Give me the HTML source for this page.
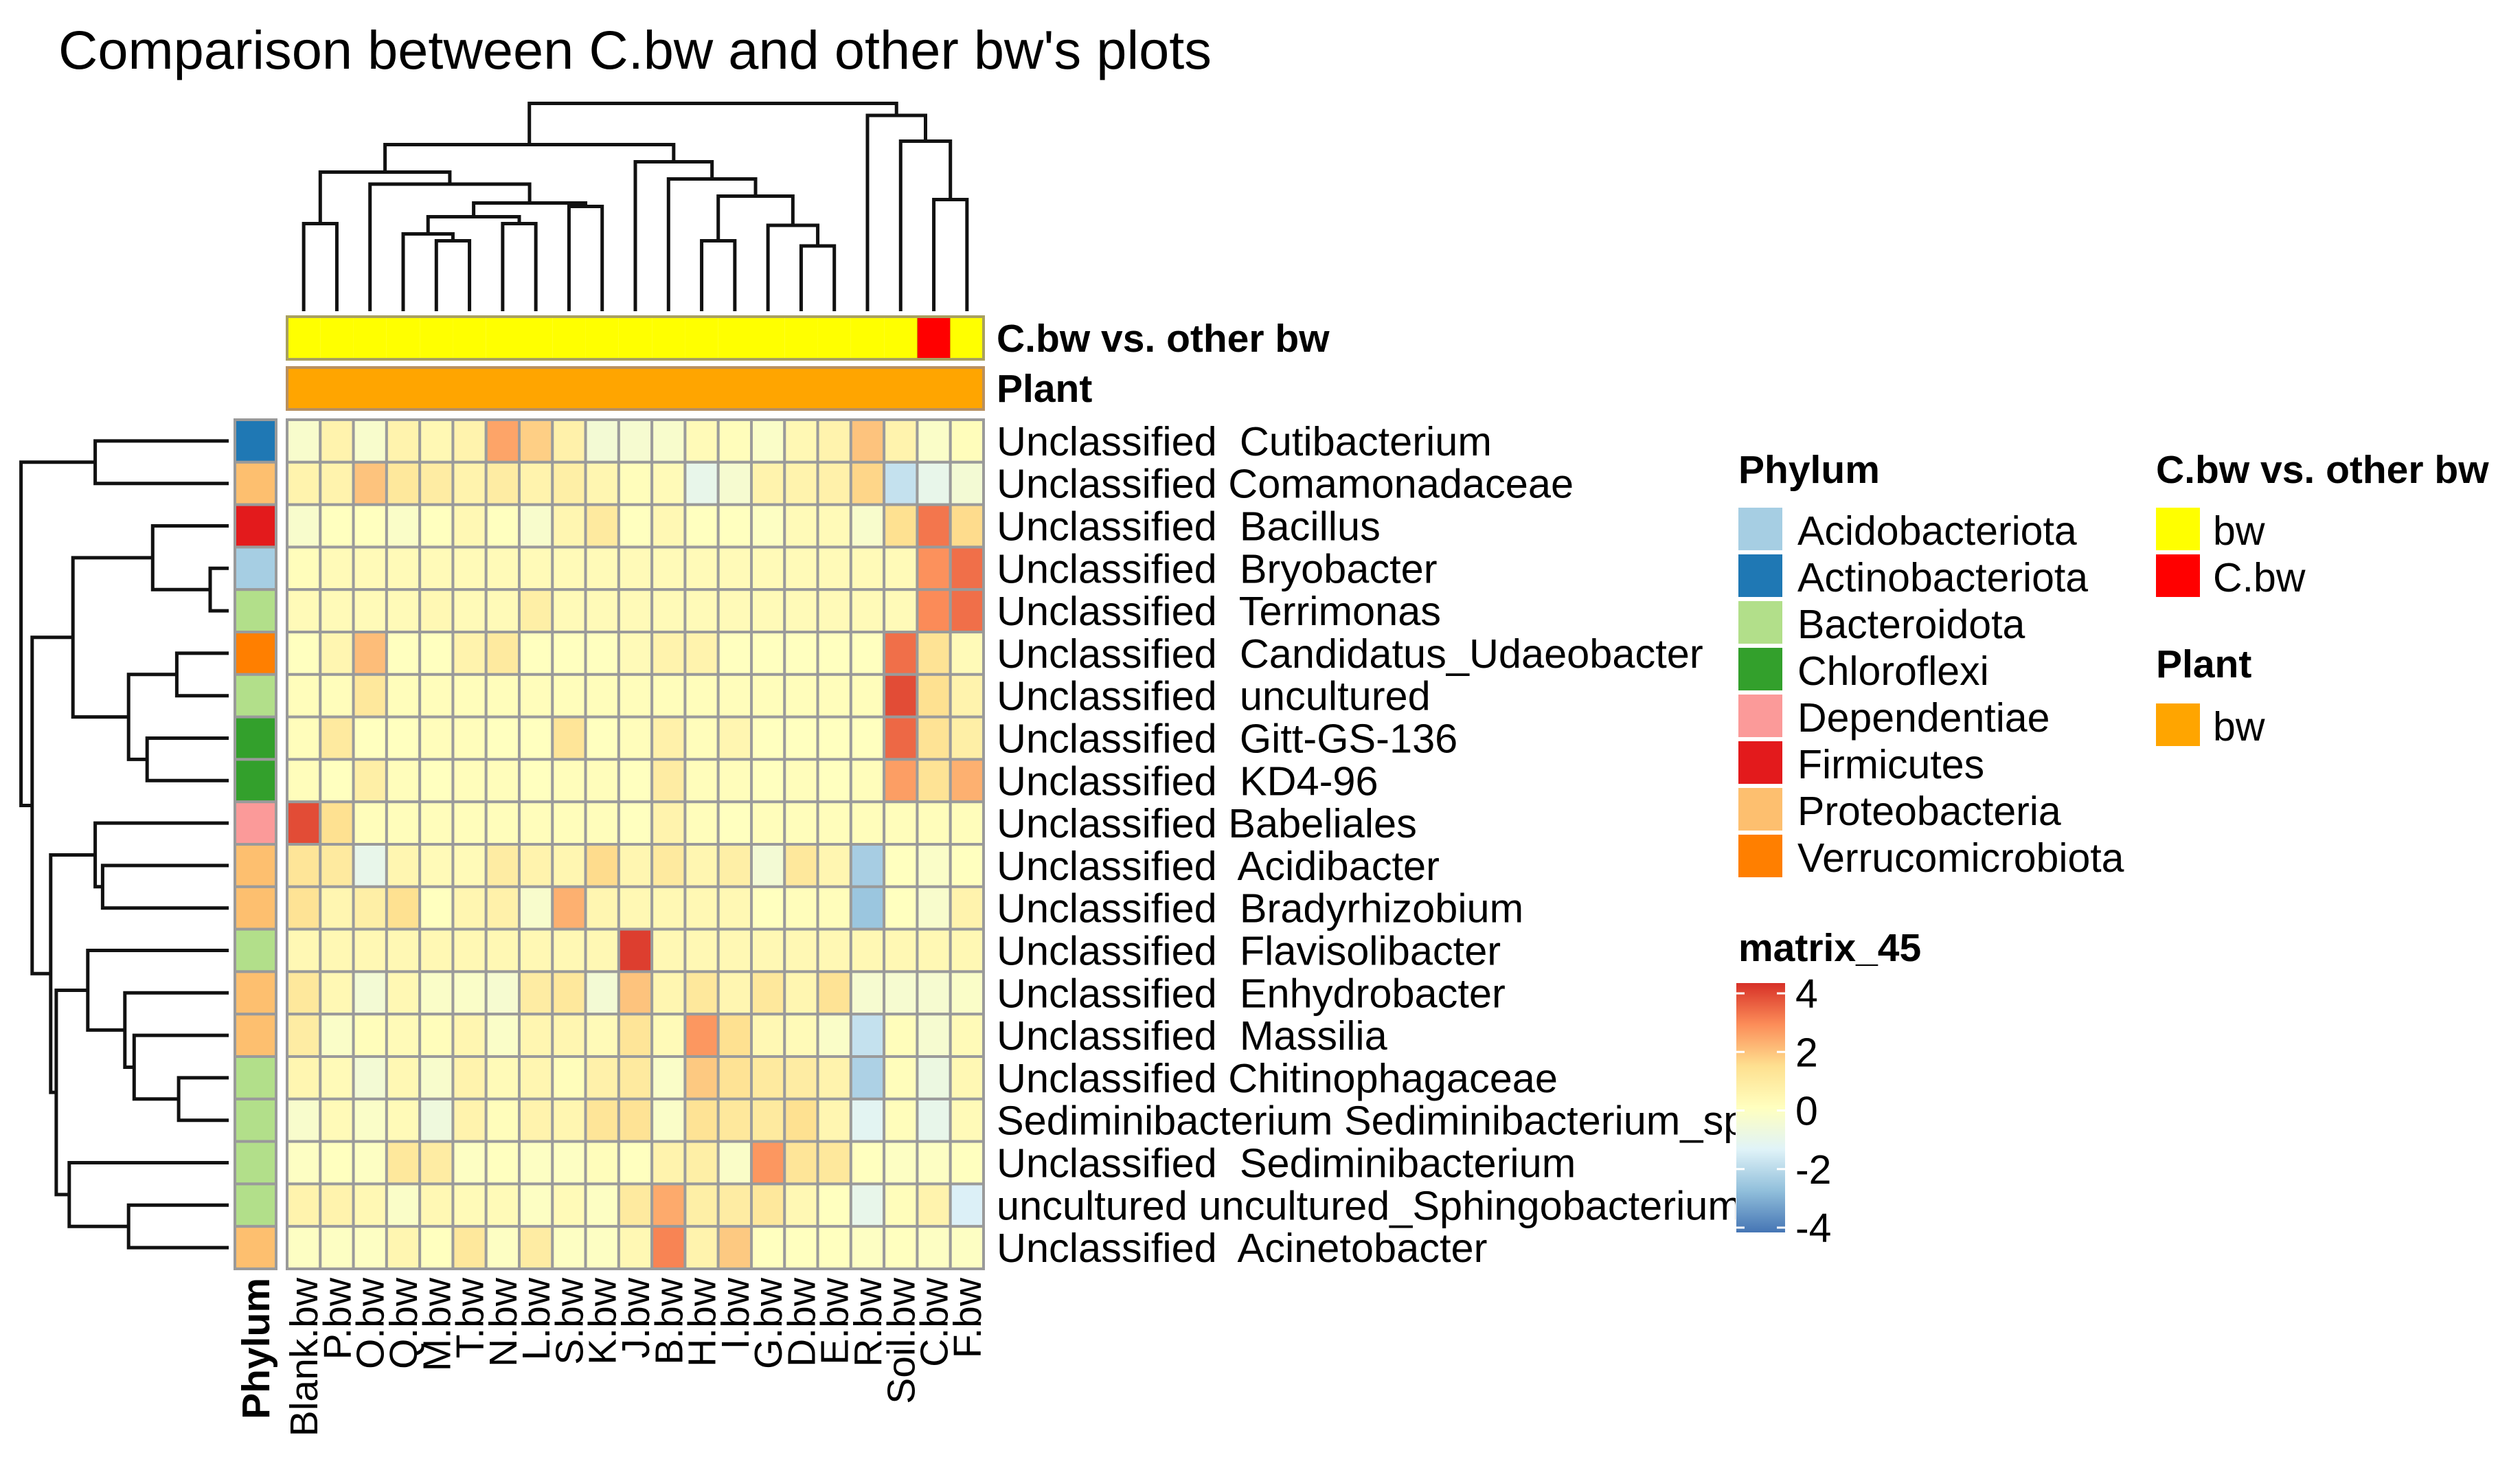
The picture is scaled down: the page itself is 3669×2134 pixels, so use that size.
<!DOCTYPE html>
<html><head><meta charset="utf-8"><style>
html,body{margin:0;padding:0;background:#fff;}
svg{display:block;}
text{font-family:"Liberation Sans",Arial,sans-serif;fill:#000;}
</style></head><body>
<svg id="chart" width="3669" height="2134" viewBox="0 0 3669 2134" xmlns="http://www.w3.org/2000/svg">
<defs>
<linearGradient id="cbar" x1="0" y1="1" x2="0" y2="0">
<stop offset="0" stop-color="#4575B4"/><stop offset="0.1667" stop-color="#91BFDB"/><stop offset="0.3333" stop-color="#E0F3F8"/><stop offset="0.5" stop-color="#FFFFBF"/><stop offset="0.6667" stop-color="#FEE090"/><stop offset="0.8333" stop-color="#FC8D59"/><stop offset="1" stop-color="#D73027"/>
</linearGradient>
<clipPath id="lblclip"><rect x="1440" y="580" width="1087" height="1300"/></clipPath>
</defs>
<text x="85" y="100" font-size="79" textLength="1679" lengthAdjust="spacingAndGlyphs">Comparison between C.bw and other bw's plots</text>
<g id="coldend"></g>
<g id="rowdend"></g>
<g id="annot"></g>
<g id="heat"></g>
<g id="rowlabels" clip-path="url(#lblclip)"></g>
<g id="collabels"></g>
<g id="legend"></g>
</svg>
<script>
const columns = ["Blank.bw","P.bw","O.bw","Q.bw","M.bw","T.bw","N.bw","L.bw","S.bw","K.bw","J.bw","B.bw","H.bw","I.bw","G.bw","D.bw","E.bw","R.bw","Soil.bw","C.bw","F.bw"];
const rowLabels = ["Unclassified  Cutibacterium","Unclassified Comamonadaceae","Unclassified  Bacillus","Unclassified  Bryobacter","Unclassified  Terrimonas","Unclassified  Candidatus_Udaeobacter","Unclassified  uncultured","Unclassified  Gitt-GS-136","Unclassified  KD4-96","Unclassified Babeliales","Unclassified  Acidibacter","Unclassified  Bradyrhizobium","Unclassified  Flavisolibacter","Unclassified  Enhydrobacter","Unclassified  Massilia","Unclassified Chitinophagaceae","Sediminibacterium Sediminibacterium_sp","Unclassified  Sediminibacterium","uncultured uncultured_Sphingobacterium","Unclassified  Acinetobacter"];
const rowPhylum = ["Actinobacteriota","Proteobacteria","Firmicutes","Acidobacteriota","Bacteroidota","Verrucomicrobiota","Bacteroidota","Chloroflexi","Chloroflexi","Dependentiae","Proteobacteria","Proteobacteria","Bacteroidota","Proteobacteria","Proteobacteria","Bacteroidota","Bacteroidota","Bacteroidota","Bacteroidota","Proteobacteria"];
const phylumNames = ["Acidobacteriota","Actinobacteriota","Bacteroidota","Chloroflexi","Dependentiae","Firmicutes","Proteobacteria","Verrucomicrobiota"];
const phylumColors = ["#A6CEE3","#1F78B4","#B2DF8A","#33A02C","#FB9A99","#E31A1C","#FDBF6F","#FF7F00"];
const groupCols = ["bw","bw","bw","bw","bw","bw","bw","bw","bw","bw","bw","bw","bw","bw","bw","bw","bw","bw","bw","C.bw","bw"];
const colorScaleTicks = [4,2,0,-2,-4];
const r01 = [-0.3,0.5,-0.3,0.5,0.3,0.5,2.3,1.6,0.6,-0.5,-0.4,-0.3,0.2,0.1,-0.2,0.3,0.5,1.8,0.5,-0.2,0.1];
const r02 = [0.5,0.5,1.8,1.0,0.8,0.5,0.8,0.5,0.7,0.4,0.1,0.2,-1.0,-0.4,0.5,0.5,0.6,1.5,-1.8,-1.0,-0.5];
const r03 = [-0.3,0,0,-0.2,0,0.3,0,-0.3,0.4,0.9,0,0.3,0,0,-0.1,0.2,0.2,-0.3,1.3,3.0,1.4];
const r04 = [0.1,0.2,0.2,0.2,0.2,0.2,0.2,0.2,0.2,0.2,0.2,0.2,0.2,0.2,0.2,0.2,0.2,0.2,0.2,2.6,3.1];
const r05 = [0.2,0.2,0.2,0.2,0.3,0.2,0.2,0.7,0.2,0.2,0.2,0.2,0.2,0.2,0.2,0.2,0.2,0.2,0.2,2.7,3.1];
const r06 = [0,0.4,1.9,0,0,0.5,0.9,0,0,0,0.2,0.5,0.5,0,0,0,0,0,3.1,1.2,0.2];
const r07 = [0.1,0.1,1.0,0.1,0.1,0.1,0.1,0.1,0.1,0.1,0.1,0.1,0.1,0.1,0.1,0.1,0.1,0.1,3.6,1.3,0.5];
const r08 = [0.1,0.9,0,0,0.1,0.1,0,0,1.1,0,0.1,0.6,0.1,0.4,0,0,0,0,3.2,1.2,0.7];
const r09 = [0.1,0,0.7,0.1,0,0.1,0.1,0,0.1,0.1,0,0.8,0.1,0.1,0,0.1,0,0.1,2.4,1.2,2.1];
const r10 = [3.6,1.3,0.1,0.1,0.1,0.1,0.1,0.1,0.1,0.1,0,0.5,0.1,0,0.1,0.1,0.1,0.1,0.1,0.1,0.1];
const r11 = [1.1,0.9,-1.0,0.4,0.2,0.2,0.8,0.5,0.4,1.4,0.4,0.9,0.4,0.7,-0.5,1.0,0.4,-2.3,0,-0.2,0];
const r12 = [1.2,0.4,0.7,1.3,0,0.4,0.6,-0.3,2.1,0.4,0.3,0.3,0.3,0.3,0,0.1,0.1,-2.5,0,-0.3,0.5];
const r13 = [0.3,0.3,0.3,0.3,0.3,0.3,0.3,0.3,0.3,0.3,3.8,0.3,0.3,0.3,0.3,0.3,0.3,0.3,0.3,0.3,0.3];
const r14 = [1.0,0.3,-0.5,0.3,-0.2,-0.2,-0.4,0.8,1.0,-0.5,1.8,0.4,1.0,0.4,1.0,0.4,1.2,-0.4,-0.4,-0.4,-0.2];
const r15 = [0.8,-0.2,0.1,0.2,0.1,0.4,-0.2,0.4,0.4,0.2,1.1,0.2,2.5,1.3,0.3,0.2,-0.2,-1.8,0.1,-0.4,0.2];
const r16 = [0.4,0.2,-0.5,0.3,-0.3,0.5,0.2,0.4,0.1,0.6,0.9,-0.2,1.7,1.2,0.9,0.8,0.5,-2.2,0.1,-0.8,0.3];
const r17 = [-0.3,0.2,-0.2,0.2,-0.7,0.5,0.1,0.5,0.4,1.1,1.2,-0.2,1.2,1.0,0.9,1.3,0.4,-1.2,0.1,-1.0,0.2];
const r18 = [-0.1,0,-0.1,1.0,0.8,-0.1,0,-0.1,-0.1,0.1,0,0.5,0.7,-0.2,2.5,1.1,1.0,0,-0.1,-0.1,0];
const r19 = [0.5,0.5,0.3,-0.2,0.3,0.2,0.2,-0.1,0.2,-0.1,0.9,2.2,0.7,0.8,1.0,0.3,0,-1.0,0.1,0.5,-1.4];
const r20 = [-0.1,-0.1,-0.1,0.4,0,1.0,-0.1,0.8,-0.1,-0.1,0.3,2.8,0.5,1.7,0,0,0,-0.1,0,-0.1,-0.1];
const values = [r01,r02,r03,r04,r05,r06,r07,r08,r09,r10,r11,r12,r13,r14,r15,r16,r17,r18,r19,r20];
// dendrograms: [leftChild,rightChild,height]; children: leaf index or node id "n#"
const colMerges = [[0,1,5.1],[4,5,4.1],[3,"n1",4.5],[6,7,5.1],["n2","n3",5.5],[8,9,6.1],["n4","n5",6.3],[2,"n6",7.4],["n0","n7",8.1],[12,13,4.1],[15,16,3.8],[14,"n10",5.0],["n9","n11",6.7],[11,"n12",7.7],[10,"n13",8.7],["n8","n14",9.7],[19,20,6.5],[18,"n16",9.9],[17,"n17",11.4],["n15","n18",12.1]];
const rowMerges = [[0,1,7.2],[3,4,1.0],[2,"n1",4.1],[5,6,2.8],[7,8,4.4],["n3","n4",5.4],["n2","n5",8.4],[10,11,6.8],[9,"n7",7.2],[15,16,2.7],[14,"n9",5.1],[13,"n10",5.6],[12,"n11",7.6],[18,19,5.4],[17,"n13",8.6],["n12","n14",9.3],["n8","n15",9.6],["n6","n16",10.6],["n0","n17",11.2]];

const NS="http://www.w3.org/2000/svg";
const X0=418, X1=1432, Y0=611, Y1=1847;
const nC=columns.length, nR=rowLabels.length;
const cw=(X1-X0)/nC, rh=(Y1-Y0)/nR;
const xc=i=>X0+cw*(i+0.5), yr=j=>Y0+rh*(j+0.5);
function el(tag,attrs,parent){const e=document.createElementNS(NS,tag);for(const k in attrs)e.setAttribute(k,attrs[k]);parent.appendChild(e);return e;}
const stops=[[-4,[69,117,180]],[-2.667,[145,191,219]],[-1.333,[224,243,248]],[0,[255,255,191]],[1.333,[254,224,144]],[2.667,[252,141,89]],[4,[215,48,39]]];
function colorOf(v){v=Math.max(-4,Math.min(4,v));for(let i=0;i<stops.length-1;i++){const a=stops[i],b=stops[i+1];if(v<=b[0]){const t=(v-a[0])/(b[0]-a[0]);const c=a[1].map((q,k)=>Math.round(q+(b[1][k]-q)*t));return `rgb(${c.join(',')})`;}}return 'rgb(215,48,39)';}

const heat=document.getElementById('heat');
values.forEach((row,j)=>row.forEach((v,i)=>{
  const r=el('rect',{x:X0+cw*i,y:Y0+rh*j,width:cw,height:rh,fill:colorOf(v),stroke:'#9a9a9a','stroke-width':4},heat);
  
  
}));

const rl=document.getElementById('rowlabels');
rowLabels.forEach((s,j)=>{
  const t=el('text',{x:1451,y:yr(j)+21,'font-size':59.5},rl);
  t.style.whiteSpace='pre';
  t.textContent=s;
  
  
});

const cl=document.getElementById('collabels');
columns.forEach((s,i)=>{
  const x=xc(i)+20,y=1860;
  const t=el('text',{x:x,y:y,'font-size':57,'text-anchor':'end',transform:`rotate(-90 ${x} ${y})`},cl);
  t.textContent=s;
  
  
});
{const x=392,y=1860;
const t=el('text',{x:x,y:y,'font-size':57,'font-weight':'bold','text-anchor':'end',transform:`rotate(-90 ${x} ${y})`},cl);
t.textContent='Phylum';

}

const an=document.getElementById('annot');
rowPhylum.forEach((p,j)=>{
  const r=el('rect',{x:342,y:Y0+rh*j,width:60,height:rh,fill:phylumColors[phylumNames.indexOf(p)],stroke:'#9a9a9a','stroke-width':4},an);
  
  
});
groupCols.forEach((g,i)=>{
  const r=el('rect',{x:X0+cw*i,y:461,width:cw,height:62,fill:g==='C.bw'?'#FF0000':'#FFFF00',stroke:g==='C.bw'?'#c8a000':'none'},an);
  
  
});
{const r=el('rect',{x:X0,y:461,width:X1-X0,height:62,fill:'none',stroke:'#a8a060','stroke-width':4},an);


const r2=el('rect',{x:X0,y:535,width:X1-X0,height:61,fill:'#FFA500',stroke:'#b89060','stroke-width':4},an);


const t1=el('text',{x:1451,y:512,'font-size':57,'font-weight':'bold'},an);t1.textContent='C.bw vs. other bw';


const t2=el('text',{x:1451,y:585,'font-size':57,'font-weight':'bold'},an);t2.textContent='Plant';

}

function drawDend(merges,pos,gEl,vertical,base,scale){
  const nodes=[];
  const get=c=>typeof c==='number'?{p:pos(c),h:0}:nodes[+c.slice(1)];
  merges.forEach(m=>{
    const a=get(m[0]),b=get(m[1]);const h=m[2];
    const lv=base-h*scale, la=base-a.h*scale, lb=base-b.h*scale;
    const d=vertical?`M${a.p},${la}V${lv}H${b.p}V${lb}`:`M${la},${a.p}H${lv}V${b.p}H${lb}`;
    const path=el('path',{d:d,fill:'none',stroke:'#111','stroke-width':5},gEl);
    
    
    nodes.push({p:(a.p+b.p)/2,h:h});
  });
}
drawDend(colMerges,xc,document.getElementById('coldend'),true,453,25);
drawDend(rowMerges,yr,document.getElementById('rowdend'),false,333,27);

const lg=document.getElementById('legend');
{const t=el('text',{x:2531,y:703,'font-size':57,'font-weight':'bold'},lg);t.textContent='Phylum';

}
phylumNames.forEach((p,k)=>{
  const y=739+k*68;
  const r=el('rect',{x:2531,y:y,width:64,height:62,fill:phylumColors[k]},lg);
  
  
  const t=el('text',{x:2617,y:y+54,'font-size':59},lg);t.textContent=p;
  
  
});
{const t=el('text',{x:3139,y:703,'font-size':57,'font-weight':'bold'},lg);t.textContent='C.bw vs. other bw';

}
[['bw','#FFFF00'],['C.bw','#FF0000']].forEach((e,k)=>{
  const y=739+k*68;
  const r=el('rect',{x:3139,y:y,width:64,height:62,fill:e[1]},lg);
  
  
  const t=el('text',{x:3222,y:y+54,'font-size':59},lg);t.textContent=e[0];
  
  
});
{const t=el('text',{x:3139,y:986,'font-size':57,'font-weight':'bold'},lg);t.textContent='Plant';


const r=el('rect',{x:3139,y:1024,width:64,height:62,fill:'#FFA500'},lg);


const t2=el('text',{x:3222,y:1078,'font-size':59},lg);t2.textContent='bw';


const t3=el('text',{x:2531,y:1399,'font-size':57,'font-weight':'bold'},lg);t3.textContent='matrix_45';


const cb=el('rect',{x:2528,y:1431,width:71,height:363,fill:'url(#cbar)'},lg);

}
const cbTop=1446, cbBot=1787;
const cbY=v=>cbBot-(v+4)/8*(cbBot-cbTop);
colorScaleTicks.forEach(v=>{
  const y=cbY(v);
  const l1=el('line',{x1:2528,x2:2540,y1:y,y2:y,stroke:'#fff','stroke-width':3},lg);
  
  
  const l2=el('line',{x1:2587,x2:2599,y1:y,y2:y,stroke:'#fff','stroke-width':3},lg);
  
  
  const t=el('text',{x:2614,y:y+21,'font-size':59},lg);t.textContent=String(v);
  
  
});
</script>
</body></html>
